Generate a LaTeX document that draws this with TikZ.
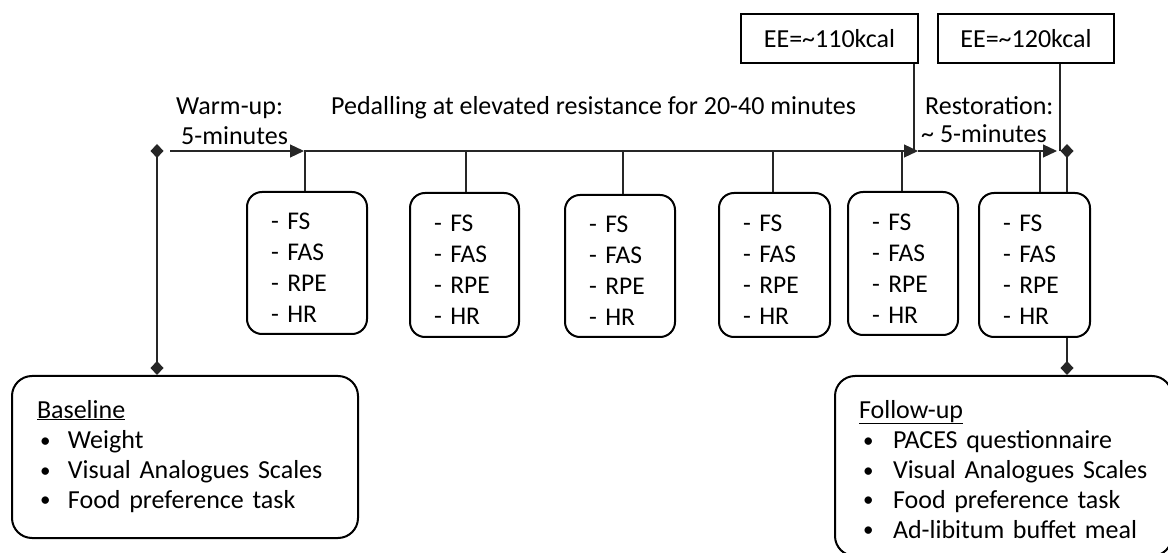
\documentclass[tikz,border=0pt]{standalone}
\usepackage{fontspec}
\setmainfont{Carlito}
\usetikzlibrary{arrows.meta}
\tikzset{
  conn/.style={line width=1.2pt, draw=black!85},
  tri/.style={-{Triangle[length=14pt,width=13pt]}},
  dia/.style={{Diamond[length=14pt,width=13pt]}-},
  diaend/.style={-{Diamond[length=14pt,width=13pt]}},
  mbox/.style={draw, line width=2pt, rounded corners=15pt, align=left, inner xsep=24pt, inner ysep=0pt,
    font=\fontsize{25.5}{31}\selectfont, fill=white},
  bigbox/.style={draw, line width=2pt, rounded corners=20pt, align=left, inner ysep=0pt,
    font=\fontsize{26}{30}\selectfont, fill=white},
  ebox/.style={draw, line width=2pt, inner sep=0pt, font=\fontsize{26}{30}\selectfont},
  lbl/.style={anchor=base west, inner sep=0pt, font=\fontsize{26}{30}\selectfont},
}
\newcommand{\mlist}{\rule{0pt}{27pt}- FS\\- FAS\\- RPE\\- HR}
\newcommand{\blt}[2]{\makebox[#2][l]{\hspace{#1}\raisebox{1pt}{\fontsize{21}{21}\selectfont\textbullet}}}
\begin{document}
\begin{tikzpicture}[x=1pt,y=-1pt]
\useasboundingbox (0,0) rectangle (1168,553);

% timeline coordinates
\coordinate (w0) at (170,151);
\coordinate (w1) at (304,151);
\coordinate (w2) at (918,151);
\coordinate (w3) at (1057,151);
\coordinate (dl) at (157,144);
\coordinate (dr) at (1067,144);
\coordinate (k1) at (305,151);
\coordinate (k2) at (466,151);
\coordinate (k3) at (623,151);
\coordinate (k4) at (773,151);
\coordinate (k5) at (902,151);
\coordinate (k6) at (1040,151);
\coordinate (t1) at (914,151);
\coordinate (t2) at (1060,151);

% labels
\node[lbl] (warm) at (176,115) {Warm-up:};
\node[lbl] (warm2) at (181,145) {5-minutes};
\node[lbl] (ped) at (331,115) {Pedalling at elevated resistance for 20-40 minutes};
\node[lbl] (rest) at (925,115) {Restoration:};
\node[lbl] (rest2) at (921,143) {\textasciitilde{} 5-minutes};

% EE boxes
\node[ebox, minimum width=177pt, minimum height=49pt] (e1) at (829.5,38.5) {EE=\textasciitilde110kcal};
\node[ebox, minimum width=176pt, minimum height=49pt] (e2) at (1026,38.5) {EE=\textasciitilde120kcal};

% baseline / follow-up boxes
\node[bigbox, inner xsep=25pt, text width=296pt, minimum width=346pt, minimum height=162pt] (base) at (185,457)
  {\rule{0pt}{22pt}\underline{Baseline}\\
   \blt{3pt}{31pt}Weight\\
   \blt{3pt}{31pt}Visual Analogues Scales\\
   \blt{3pt}{31pt}Food preference task\rule[-10pt]{0pt}{10pt}};
\node[bigbox, inner xsep=24pt, text width=289pt, minimum width=337pt, minimum height=180pt] (fu) at (1003.5,466)
  {\rule{0pt}{32pt}\underline{Follow-up}\\
   \blt{4pt}{34pt}PACES questionnaire\\
   \blt{4pt}{34pt}Visual Analogues Scales\\
   \blt{4pt}{34pt}Food preference task\\
   \blt{4pt}{34pt}Ad-libitum buffet meal\rule[-8pt]{0pt}{8pt}};

% measurement boxes
\node[mbox, text width=72pt, minimum width=120pt, minimum height=142pt] (b1) at (307,263) {\mlist};
\node[mbox, text width=61pt, minimum width=109pt, minimum height=144pt] (b2) at (464.5,265) {\mlist};
\node[mbox, text width=62pt, minimum width=110pt, minimum height=142pt] (b3) at (620,266) {\mlist};
\node[mbox, text width=63pt, minimum width=111pt, minimum height=144pt] (b4) at (774.5,265) {\mlist};
\node[mbox, text width=62pt, minimum width=110pt, minimum height=143pt] (b5) at (903,263.5) {\mlist};
\node[mbox, text width=63pt, minimum width=111pt, minimum height=144pt] (b6) at (1034.5,265) {\mlist};

% timeline arrows
\draw[conn, tri] (w0) -- (w1);
\draw[conn, tri] (w1) -- (w2);
\draw[conn, tri] (w2) -- (w3);

% ticks to boxes
\draw[conn] (k1) -- (k1 |- b1.north);
\draw[conn] (k2) -- (k2 |- b2.north);
\draw[conn] (k3) -- (k3 |- b3.north);
\draw[conn] (k4) -- (k4 |- b4.north);
\draw[conn] (k5) -- (k5 |- b5.north);
\draw[conn] (k6) -- (k6 |- b6.north);

% EE connectors
\draw[conn] (t1 |- e1.south) -- (t1);
\draw[conn] (t2 |- e2.south) -- (t2);

% diamond connectors
\draw[conn, {Diamond[length=14pt,width=13pt]}-{Diamond[length=14pt,width=13pt]}] (dl) -- (dl |- base.north);
\draw[conn, dia] (dr) -- (dr |- b6.north);
\draw[conn, diaend] (dr |- b6.south) -- (dr |- fu.north);
\end{tikzpicture}
\end{document}
